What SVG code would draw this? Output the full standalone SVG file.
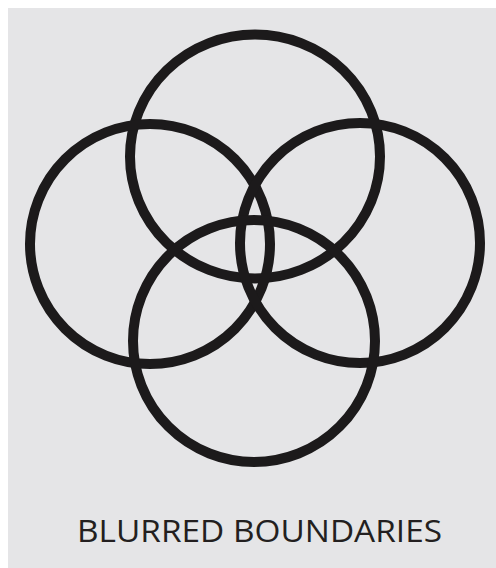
<svg xmlns="http://www.w3.org/2000/svg" width="496" height="568" viewBox="0 0 496 568">
<style>
.ring{fill:none;stroke:#1c1a1b;stroke-width:10}
.label{font-family:"Open Sans","Liberation Sans",sans-serif;font-size:31px;fill:#231f20}
</style>
<rect x="0" y="0" width="496" height="568" fill="#ffffff"/>
<rect x="8" y="8" width="488" height="560" fill="#e5e5e7"/>
<g id="circle-top"><ellipse class="ring" cx="255" cy="156.5" rx="125" ry="122"/></g>
<g id="circle-left"><circle class="ring" cx="150" cy="244" r="120"/></g>
<g id="circle-right"><circle class="ring" cx="360" cy="243" r="120"/></g>
<g id="circle-bottom"><circle class="ring" cx="254" cy="341" r="121"/></g>
<g id="connectors"></g>
<text class="label" x="259.5" y="542" text-anchor="middle" textLength="365" lengthAdjust="spacingAndGlyphs">BLURRED BOUNDARIES</text>
</svg>
